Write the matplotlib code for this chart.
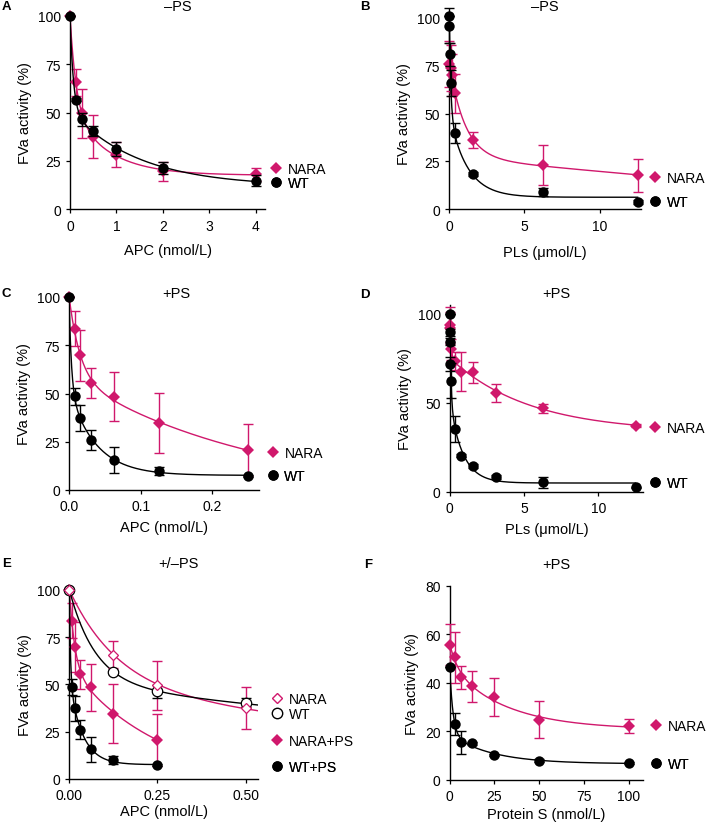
import numpy as np
import matplotlib
matplotlib.use("Agg")
import matplotlib.pyplot as plt
from matplotlib.lines import Line2D

plt.rcParams['font.family'] = ['Liberation Sans', 'DejaVu Sans']

FS = 10
LFS = 10.5
KFS = 10
PINK = '#d0186c'
BLACK = '#000000'

# ---- data ----
# A: -PS, APC titration (nmol/L)
a_x = [0, 0.125, 0.25, 0.5, 1, 2, 4]
a_nara = [100, 65.7, 49.5, 37.5, 28.1, 19.5, 18.0]
a_nara_sd = [0, 7.0, 12.8, 11.0, 6.5, 4.8, 3.5]
a_wt = [100, 56.7, 46.4, 40.3, 31.2, 21.3, 14.7]
a_wt_sd = [0, 1.0, 3.5, 2.5, 3.5, 3.0, 2.8]

# B: -PS, phospholipid titration (umol/L)
b_x_nara = [0, 0.1, 0.2, 0.39, 1.56, 6.25, 12.5]
b_nara = [76, 74, 70, 60.5, 36.2, 23.2, 17.6]
b_nara_sd = [12, 12, 11, 10, 4.3, 10.5, 8.8]
b_x_wt = [0, 0.025, 0.05, 0.1, 0.39, 1.56, 6.25, 12.5]
b_wt = [101, 96, 81, 66, 39.6, 18.2, 8.8, 3.6]
b_wt_sd = [0, 9, 6, 7, 5.3, 1.0, 2.2, 1.0]

# C: +PS, APC titration (nmol/L)
c_x = [0, 0.0078, 0.0156, 0.03125, 0.0625, 0.125, 0.25]
c_nara = [100, 83.6, 69.7, 55.4, 48.4, 34.6, 20.6]
c_nara_sd = [0, 9.2, 13.4, 7.7, 12.5, 15.5, 13.5]
c_wt = [100, 48.6, 37.4, 26.1, 15.6, 10.0, 7.3]
c_wt_sd = [0, 4.3, 6.6, 5.2, 6.6, 2.0, 0.5]

# D: +PS, phospholipid titration (umol/L)
d_x_nara = [0, 0.024, 0.098, 0.39, 0.78, 1.56, 3.125, 6.25, 12.5]
d_nara = [94, 92, 80, 73.5, 67.5, 67.2, 55.4, 46.9, 37.2]
d_nara_sd = [10, 9, 6, 5, 11, 6, 5, 2.4, 1.0]
d_x_wt = [0, 0.012, 0.024, 0.049, 0.098, 0.39, 0.78, 1.56, 3.125, 6.25, 12.5]
d_wt = [100, 89.7, 84.4, 71.9, 62.5, 35.3, 20.3, 14.6, 8.4, 5.3, 2.4]
d_wt_sd = [0, 2, 2, 4, 10, 7.5, 1, 1, 1, 3, 0.5]

# F: +PS, protein S titration (nmol/L)
f_x = [0, 3.125, 6.25, 12.5, 25, 50, 100]
f_nara = [55.7, 50.6, 42.3, 38.6, 34.1, 24.8, 22.1]
f_nara_sd = [8.4, 10.5, 4.7, 6.5, 7.7, 7.7, 2.9]
f_wt = [46.5, 23.0, 15.4, 15.0, 10.3, 7.9, 6.9]
f_wt_sd = [0, 4.6, 4.6, 0.5, 0.5, 0.5, 0.5]


def fit_curve(x, y, xs):
    # two-phase decay y = p + a1*exp(-k1 x) + a2*exp(-k2 x)
    # rates by grid search, amplitudes by least squares (kept non-negative)
    x = np.asarray(x, float)
    y = np.asarray(y, float)
    span = max(x)
    ks = np.logspace(-1, 3.5, 70) / span
    best = None
    for i, k1 in enumerate(ks):
        for k2 in ks[i:]:
            m = np.column_stack([np.ones_like(x), np.exp(-k1 * x), np.exp(-k2 * x)])
            coef, *_ = np.linalg.lstsq(m, y, rcond=None)
            if coef[1] < 0 or coef[2] < 0:
                continue
            r = np.sum((m @ coef - y) ** 2)
            if best is None or r < best[0]:
                best = (r, k1, k2, coef)
    _, k1, k2, (p, a1, a2) = best
    return p + a1 * np.exp(-k1 * xs) + a2 * np.exp(-k2 * xs)


W, H = 709, 829


def rect(left, top, right, bottom):
    return [left / W, 1 - bottom / H, (right - left) / W, (bottom - top) / H]


def style(ax, xpad):
    for s in ['top', 'right']:
        ax.spines[s].set_visible(False)
    for s in ['left', 'bottom']:
        ax.spines[s].set_linewidth(1.0)
    ax.tick_params(labelsize=FS, length=3, width=0.9, direction='out')
    ax.tick_params(axis='x', pad=xpad)
    ax.tick_params(axis='y', pad=3.5)
    ax.set_ylabel('FVa activity (%)', fontsize=LFS, labelpad=4)


def series(ax, x, y, sd, color, marker, ms, filled=True, xmax=None, z=3):
    xs = np.linspace(0, xmax if xmax is not None else max(x), 400)
    ax.plot(xs, fit_curve(x, y, xs), color=color, lw=1.0, zorder=z)
    ax.errorbar(x, y, yerr=sd, fmt='none', ecolor=color, elinewidth=1.0,
                capsize=3.5, capthick=1.0, zorder=z, clip_on=False)
    ax.plot(x, y, linestyle='none', marker=marker, ms=ms, color=color,
            mfc=color if filled else 'white', mew=1.0 if not filled else 0,
            zorder=z + 1, clip_on=False)


def key(ax, color, marker, ms, label, x, y, filled=True):
    h = Line2D([], [], linestyle='none', marker=marker, ms=ms, color=color,
               mfc=color if filled else 'white', mew=1.0 if not filled else 0)
    leg = ax.legend([h], [label], loc='center left', bbox_to_anchor=(x, y),
                    frameon=False, handlelength=1.0, handletextpad=0.35,
                    borderpad=0, borderaxespad=0, fontsize=KFS)
    ax.add_artist(leg)


DM, CM = 6.0, 7.5  # diamond / circle sizes

fig = plt.figure(figsize=(W / 100, H / 100), dpi=100)

# A
ax = fig.add_axes(rect(70, 17, 265, 210))
series(ax, a_x, a_nara, a_nara_sd, PINK, 'D', DM)
series(ax, a_x, a_wt, a_wt_sd, BLACK, 'o', CM, z=5)
ax.set_xlim(0, 4.2)
ax.set_ylim(0, 100)
ax.set_xticks([0, 1, 2, 3, 4])
ax.set_yticks([0, 25, 50, 75, 100])
ax.set_xlabel('APC (nmol/L)', fontsize=LFS, labelpad=7)
style(ax, 4.5)
key(ax, PINK, 'D', DM, 'NARA', 1.02, 0.207)
key(ax, BLACK, 'o', CM, 'WT', 1.02, 0.133)

# B
ax = fig.add_axes(rect(449, 19, 640.7, 210))
series(ax, b_x_nara, b_nara, b_nara_sd, PINK, 'D', DM)
series(ax, b_x_wt, b_wt, b_wt_sd, BLACK, 'o', CM, z=5)
ax.set_xlim(0, 12.7)
ax.set_ylim(0, 100)
ax.set_xticks([0, 5, 10])
ax.set_yticks([0, 25, 50, 75, 100])
ax.set_xlabel('PLs (\u03bcmol/L)', fontsize=LFS, labelpad=8)
style(ax, 4.5)
key(ax, PINK, 'D', DM, 'NARA', 1.038, 0.162)
key(ax, BLACK, 'o', CM, 'WT', 1.038, 0.037)

# C
ax = fig.add_axes(rect(69, 298, 259, 491))
series(ax, c_x, c_nara, c_nara_sd, PINK, 'D', DM)
series(ax, c_x, c_wt, c_wt_sd, BLACK, 'o', CM, z=5)
ax.set_xlim(0, 0.265)
ax.set_ylim(0, 100)
ax.set_xticks([0, 0.1, 0.2])
ax.set_xticklabels(['0.0', '0.1', '0.2'])
ax.set_yticks([0, 25, 50, 75, 100])
ax.set_xlabel('APC (nmol/L)', fontsize=LFS, labelpad=5)
style(ax, 3.5)
key(ax, PINK, 'D', DM, 'NARA', 1.035, 0.19)
key(ax, BLACK, 'o', CM, 'WT', 1.035, 0.071)

# D
ax = fig.add_axes(rect(449.7, 306, 643, 492.7))
series(ax, d_x_nara, d_nara, d_nara_sd, PINK, 'D', DM)
series(ax, d_x_wt, d_wt, d_wt_sd, BLACK, 'o', CM, z=5)
ax.set_xlim(0, 13)
ax.set_ylim(0, 105)
ax.set_xticks([0, 5, 10])
ax.set_yticks([0, 50, 100])
ax.set_xlabel('PLs (\u03bcmol/L)', fontsize=LFS, labelpad=5)
style(ax, 3.5)
key(ax, PINK, 'D', DM, 'NARA', 1.026, 0.341)
key(ax, BLACK, 'o', CM, 'WT', 1.026, 0.045)

# E: -PS (open) from A data up to 0.5, +PS (filled) from C data
ax = fig.add_axes(rect(69.3, 590.7, 258, 780))
e_mask = np.asarray(a_x) <= 0.5
e_x = np.asarray(a_x)[e_mask]
series(ax, c_x, c_nara, c_nara_sd, PINK, 'D', DM, z=3)
series(ax, c_x, c_wt, c_wt_sd, BLACK, 'o', CM, z=5)
xs = np.linspace(0, 0.535, 400)
ax.plot(xs, fit_curve(a_x, a_nara, xs), color=PINK, lw=1.0, zorder=7)
ax.plot(xs, fit_curve(a_x, a_wt, xs), color=BLACK, lw=1.0, zorder=7)
ax.errorbar(e_x, np.asarray(a_nara)[e_mask], yerr=np.asarray(a_nara_sd)[e_mask],
            fmt='none', ecolor=PINK, elinewidth=1.0, capsize=3.5, zorder=7)
ax.errorbar(e_x, np.asarray(a_wt)[e_mask], yerr=np.asarray(a_wt_sd)[e_mask],
            fmt='none', ecolor=BLACK, elinewidth=1.0, capsize=3.5, zorder=7)
ax.plot(e_x, np.asarray(a_wt)[e_mask], linestyle='none', marker='o', ms=CM,
        mfc='white', mec=BLACK, mew=0.9, zorder=8, clip_on=False)
ax.plot(e_x, np.asarray(a_nara)[e_mask], linestyle='none', marker='D', ms=DM - 0.5,
        mfc='white', mec=PINK, mew=0.9, zorder=8, clip_on=False)
ax.set_xlim(0, 0.535)
ax.set_ylim(0, 100)
ax.set_xticks([0, 0.25, 0.5])
ax.set_xticklabels(['0.00', '0.25', '0.50'])
ax.set_yticks([0, 25, 50, 75, 100])
ax.set_xlabel('APC (nmol/L)', fontsize=LFS, labelpad=1.5)
style(ax, 3.5)
key(ax, PINK, 'D', DM - 0.5, 'NARA', 1.064, 0.424, filled=False)
key(ax, BLACK, 'o', CM, 'WT', 1.064, 0.343, filled=False)
key(ax, PINK, 'D', DM, 'NARA+PS', 1.064, 0.202)
key(ax, BLACK, 'o', CM, 'WT+PS', 1.064, 0.062)

# F
ax = fig.add_axes(rect(449.7, 587, 643, 780.7))
series(ax, f_x, f_nara, f_nara_sd, PINK, 'D', DM)
series(ax, f_x, f_wt, f_wt_sd, BLACK, 'o', CM, z=5)
ax.set_xlim(0, 108)
ax.set_ylim(0, 80)
ax.set_xticks([0, 25, 50, 75, 100])
ax.set_yticks([0, 20, 40, 60, 80])
ax.set_xlabel('Protein S (nmol/L)', fontsize=LFS, labelpad=3)
style(ax, 3.5)
key(ax, PINK, 'D', DM, 'NARA', 1.031, 0.276)
key(ax, BLACK, 'o', CM, 'WT', 1.031, 0.081)

# panel letters and titles
for lab, x, y in [('A', 2, 7), ('B', 360, 7), ('C', 2, 294), ('D', 360, 295),
                  ('E', 2, 564), ('F', 364, 565)]:
    fig.text(x / W, 1 - y / H, lab, fontsize=FS - 0.5, fontweight='bold', va='center', ha='left')
for t, x, y in [('\u2013PS', 178, 7), ('\u2013PS', 545, 7), ('+PS', 176, 294),
                ('+PS', 556, 294), ('+/\u2013PS', 178, 564), ('+PS', 556, 565)]:
    fig.text(x / W, 1 - y / H, t, fontsize=LFS, va='center', ha='center')

fig.savefig('out.png', dpi=100)
